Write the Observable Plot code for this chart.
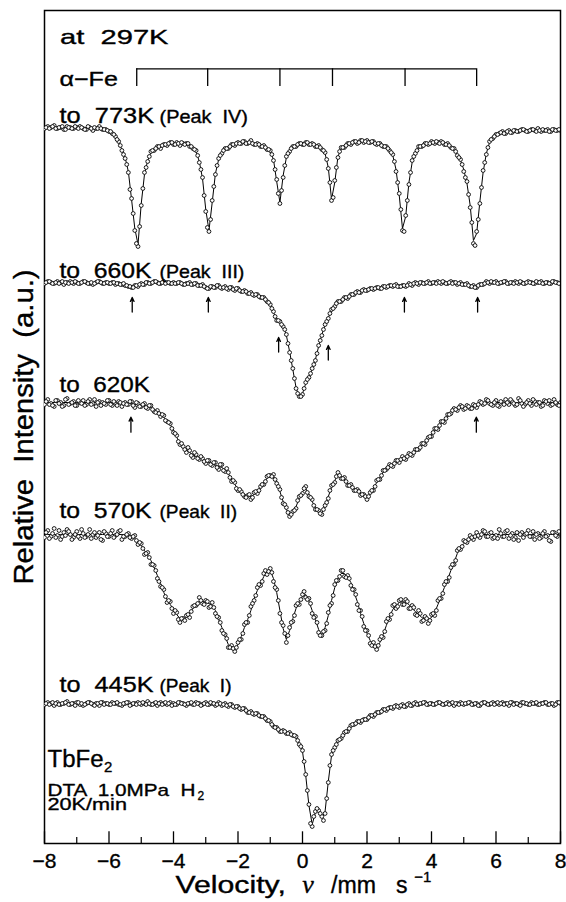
<!DOCTYPE html>
<html><head><meta charset="utf-8">
<script src="https://cdn.jsdelivr.net/npm/d3@7"></script>
<script src="https://cdn.jsdelivr.net/npm/@observablehq/plot@0.6"></script>
<style>
html,body{margin:0;padding:0;background:#fff;}
svg text{white-space:pre;}
</style>
</head><body><div id="chart"></div>
<script>
// ---- Data ----
// velocity channels (mm/s)
const velocity = [
-8,-7.9,-7.8,-7.7,-7.6,-7.5,-7.4,-7.3,-7.2,-7.1,
-7,-6.9,-6.8,-6.7,-6.6,-6.5,-6.4,-6.3,-6.2,-6.1,
-6,-5.9,-5.8,-5.7,-5.6,-5.5,-5.4,-5.3,-5.2,-5.1,
-5,-4.9,-4.8,-4.7,-4.6,-4.5,-4.4,-4.3,-4.2,-4.1,
-4,-3.9,-3.8,-3.7,-3.6,-3.5,-3.4,-3.3,-3.2,-3.1,
-3,-2.9,-2.8,-2.7,-2.6,-2.5,-2.4,-2.3,-2.2,-2.1,
-2,-1.9,-1.8,-1.7,-1.6,-1.5,-1.4,-1.3,-1.2,-1.1,
-1,-0.9,-0.8,-0.7,-0.6,-0.5,-0.4,-0.3,-0.2,-0.1,
0,0.1,0.2,0.3,0.4,0.5,0.6,0.7,0.8,0.9,
1,1.1,1.2,1.3,1.4,1.5,1.6,1.7,1.8,1.9,
2,2.1,2.2,2.3,2.4,2.5,2.6,2.7,2.8,2.9,
3,3.1,3.2,3.3,3.4,3.5,3.6,3.7,3.8,3.9,
4,4.1,4.2,4.3,4.4,4.5,4.6,4.7,4.8,4.9,
5,5.1,5.2,5.3,5.4,5.5,5.6,5.7,5.8,5.9,
6,6.1,6.2,6.3,6.4,6.5,6.6,6.7,6.8,6.9,
7,7.1,7.2,7.3,7.4,7.5,7.6,7.7,7.8,7.9,
8];
// interleaved channels (mm/s)
const velocityMid = [
-7.95,-7.85,-7.75,-7.65,-7.55,-7.45,-7.35,-7.25,-7.15,-7.05,
-6.95,-6.85,-6.75,-6.65,-6.55,-6.45,-6.35,-6.25,-6.15,-6.05,
-5.95,-5.85,-5.75,-5.65,-5.55,-5.45,-5.35,-5.25,-5.15,-5.05,
-4.95,-4.85,-4.75,-4.65,-4.55,-4.45,-4.35,-4.25,-4.15,-4.05,
-3.95,-3.85,-3.75,-3.65,-3.55,-3.45,-3.35,-3.25,-3.15,-3.05,
-2.95,-2.85,-2.75,-2.65,-2.55,-2.45,-2.35,-2.25,-2.15,-2.05,
-1.95,-1.85,-1.75,-1.65,-1.55,-1.45,-1.35,-1.25,-1.15,-1.05,
-0.95,-0.85,-0.75,-0.65,-0.55,-0.45,-0.35,-0.25,-0.15,-0.05,
0.05,0.15,0.25,0.35,0.45,0.55,0.65,0.75,0.85,0.95,
1.05,1.15,1.25,1.35,1.45,1.55,1.65,1.75,1.85,1.95,
2.05,2.15,2.25,2.35,2.45,2.55,2.65,2.75,2.85,2.95,
3.05,3.15,3.25,3.35,3.45,3.55,3.65,3.75,3.85,3.95,
4.05,4.15,4.25,4.35,4.45,4.55,4.65,4.75,4.85,4.95,
5.05,5.15,5.25,5.35,5.45,5.55,5.65,5.75,5.85,5.95,
6.05,6.15,6.25,6.35,6.45,6.55,6.65,6.75,6.85,6.95,
7.05,7.15,7.25,7.35,7.45,7.55,7.65,7.75,7.85,7.95];

const spectra = ["773K", "660K", "620K", "570K", "445K"];
const peakNames = ["(Peak  IV)", "(Peak  III)", "", "(Peak  II)", "(Peak  I)"];
// baseline level of each stacked spectrum (a.u.)
const baselines = [716, 561, 441, 309, 140];

// absorption depth below each baseline (a.u.): fitted curve, measured points, interleaved measured points
const fit773 = [
0,0,0,0,0,0,0,0,0,0, 0,0,0,0,0,0,0,0,1,2,
3,5,9,15,22,30,44,72,101,117, 76,47,33,25,22,20,19,18,17,16,
16,16,16,16,17,18,20,24,34,51, 82,103,75,46,32,25,22,20,18,17,
16,15,15,15,15,16,17,18,19,21, 24,32,54,75,48,30,23,20,18,17,
16,16,16,17,18,19,21,26,40,72, 55,29,21,19,17,16,15,15,14,14,
14,14,15,16,17,18,20,22,28,42, 68,101,89,55,35,25,20,18,17,16,
15,15,15,15,16,17,19,22,27,33, 42,56,78,113,106,74,45,26,15,10,
8,6,5,5,4,4,4,3,3,3, 3,3,3,3,3,3,3,3,3,3, 3];
const obs773 = [
1,-1,0,-2,1,0,2,-1,0,1, 0,-1,1,2,0,3,1,-1,2,2,
4,6,9,14,23,31,45,71,103,119, 78,45,34,24,23,19,21,17,18,15,
17,15,18,16,16,19,21,23,35,50, 84,104,73,47,31,26,21,21,17,18,
15,16,14,16,13,17,16,19,18,22, 23,33,52,76,50,29,24,19,19,16,
17,15,17,16,19,18,22,25,41,73, 53,30,20,20,16,17,14,16,13,15,
13,15,14,17,16,19,19,23,27,44, 66,103,88,57,33,26,19,19,16,17,
14,16,15,14,17,16,20,21,28,32, 44,54,80,116,104,76,43,27,14,11,
7,6,4,6,3,5,3,4,2,3, 4,2,3,1,4,3,2,4,2,3, 3];
const mid773 = [
0,1,-1,1,0,-1,2,0,1,-1, 1,0,2,-1,1,0,1,1,2,3,
4,7,12,18,27,37,62,86,116,99, 61,40,29,23,21,19,18,17,16,15,
17,16,15,17,16,19,22,28,42,68, 100,92,59,38,28,23,21,19,17,16,
16,14,16,15,16,17,17,19,20,22, 27,42,66,63,38,26,21,19,17,16,
17,15,17,17,19,20,23,32,55,70, 40,24,20,18,16,15,14,15,13,14,
15,14,16,16,18,19,21,25,34,55, 82,104,73,45,29,23,19,18,16,16,
15,14,16,15,17,18,21,24,30,37, 50,67,95,118,92,60,35,20,12,9,
7,5,6,4,5,3,4,3,2,4, 3,2,4,3,2,3,4,2,3,2];

const fit660 = [
0,0,0,0,0,0,0,0,0,0, 0,0,0,0,0,0,0,0,0,0,
0,0,1,1,1,2,3,4,4,3, 2,1,1,0,0,0,0,0,0,0,
0,0,1,1,1,1,1,2,2,3, 4,5,4,4,4,5,5,6,6,7,
7,8,9,10,11,12,13,14,16,18, 21,30,37,40,43,53,69,87,105,115,
111,101,94,87,77,64,52,43,35,28, 23,20,18,16,15,13,11,10,9,8,
7,7,6,6,5,5,4,4,3,3, 3,4,3,2,2,1,1,1,1,0,
0,0,0,0,0,0,0,0,1,1, 1,2,3,4,4,3,1,0,0,0,
0,0,0,0,0,0,0,0,0,0, 0,0,0,0,0,0,0,0,0,0, 0];
const obs660 = [
1,-1,0,1,-1,0,2,0,-1,1, 0,1,-1,0,1,2,0,-1,1,0,
1,0,2,1,2,3,4,5,3,4, 1,2,0,1,-1,0,1,-1,0,1,
0,1,0,2,1,0,2,1,3,2, 5,6,4,5,3,6,4,7,5,8,
6,9,8,11,10,13,12,15,15,19, 22,29,38,39,44,52,70,86,106,114,
112,100,95,86,78,63,53,42,36,27, 24,19,19,15,16,12,12,9,10,7,
8,6,7,5,6,4,5,3,4,2, 4,3,4,1,3,0,2,0,1,-1,
1,0,-1,1,0,1,-1,0,2,0, 2,1,4,3,5,2,2,-1,1,0,
-1,1,0,-1,1,0,-1,1,0,1, -1,0,1,0,-1,1,0,1,-1,0, 1];
const mid660 = [
0,-1,1,0,1,-1,0,1,0,-1, 1,0,-1,1,0,1,-1,0,1,0,
1,0,1,2,1,3,4,5,3,2, 2,0,1,0,-1,1,0,1,0,1,
1,0,1,2,1,2,1,3,3,4, 6,4,5,3,5,5,6,5,7,6,
8,9,9,11,12,12,14,15,17,20, 26,34,38,42,47,61,78,96,111,114,
106,97,91,82,71,58,47,39,31,26, 21,19,17,15,14,12,10,10,8,8,
7,6,6,5,6,4,4,3,3,4, 4,3,3,2,1,1,0,1,0,1,
0,1,0,-1,1,0,1,0,1,2, 2,3,4,5,3,2,1,0,-1,0,
1,0,-1,1,0,1,0,-1,1,0, 0,1,-1,0,1,0,1,-1,0,1];

const fit620 = [
0,0,0,0,0,0,0,0,0,0, 0,0,0,0,0,0,0,0,0,0,
0,0,0,0,0,0,1,1,2,2, 3,3,4,5,7,9,12,15,18,22,
28,35,40,45,47,50,52,54,55,57, 58,60,61,63,64,65,67,71,77,82,
86,90,92,94,94,92,89,85,80,76, 72,74,79,89,99,107,112,110,104,96,
89,86,92,99,105,110,110,105,94,85, 78,72,74,77,81,84,86,88,91,93,
95,92,86,80,75,70,66,64,62,60, 58,56,55,53,51,48,46,43,40,36,
32,28,25,21,18,14,10,7,6,5, 5,5,5,4,3,1,0,0,0,0,
0,0,0,0,0,0,0,0,0,0, 0,0,0,0,0,0,0,0,0,0, 0];
const obs620 = [
2,-3,1,4,-2,0,3,-4,1,-1, 3,0,-2,2,-3,1,4,-1,0,2,
-2,3,1,-1,4,0,2,-1,5,1, 4,1,6,3,9,8,14,13,19,21,
30,33,42,44,50,48,55,52,57,56, 61,58,63,60,67,62,69,70,79,80,
88,89,94,93,97,90,91,84,82,74, 73,72,81,87,101,105,114,109,106,94,
91,84,94,97,107,108,112,103,96,83, 80,70,76,75,83,82,88,87,93,92,
97,90,88,78,77,68,67,62,64,58, 60,54,57,51,53,47,47,41,42,35,
34,26,27,19,20,12,11,6,8,3, 7,3,6,2,5,-1,2,-3,1,3,
-2,4,0,-3,2,-1,3,-4,1,2, -2,3,-1,0,4,-2,1,3,-3,2, 0];
const mid620 = [
-1,2,3,-2,1,4,-3,2,0,3, -2,1,3,-1,2,-3,0,3,1,-2,
2,-1,3,0,1,2,-1,3,0,4, 2,5,3,7,10,11,12,18,20,26,
31,39,41,47,45,53,50,56,54,59, 58,62,60,65,62,68,66,75,78,86,
87,92,95,92,95,89,88,82,79,73, 74,77,84,95,102,110,112,108,98,93,
86,90,95,103,107,111,107,100,88,82, 74,73,76,79,83,85,88,89,92,94,
94,88,84,77,73,68,65,63,61,58, 57,56,54,52,50,47,45,41,38,34,
30,26,23,19,16,12,8,7,5,4, 6,4,6,3,2,0,1,-2,2,0,
3,-1,2,0,-3,1,2,-2,4,0, 1,-3,2,0,3,-1,-2,2,0,3];

const fit570 = [
0,0,0,0,0,0,0,0,0,0, 0,0,0,0,0,0,0,0,0,0,
0,0,0,0,0,0,0,1,4,7, 11,16,21,26,33,41,49,58,65,70,
75,80,84,85,83,79,74,70,67,67, 68,69,71,76,85,93,102,110,114,115,
110,102,93,85,76,64,56,49,42,37, 36,44,58,76,94,105,96,84,74,67,
62,60,67,76,85,95,103,93,81,66, 53,44,39,39,43,48,58,67,79,89,
99,106,111,113,108,100,91,82,75,71, 68,67,68,70,74,77,80,83,85,85,
83,78,70,61,53,45,36,28,19,13, 9,6,4,3,2,1,0,0,0,0,
0,0,0,0,0,0,0,0,0,0, 0,0,0,0,0,0,0,0,0,0, 0];
const obs570 = [
3,-4,2,-6,1,5,-2,-5,0,3, -3,4,-1,2,-5,0,3,-2,6,-1,
2,-4,1,-3,5,2,-1,4,1,10, 9,20,18,30,31,44,52,55,68,67,
79,78,88,84,81,83,72,71,63,69, 66,73,68,79,83,96,100,113,111,117,
108,105,90,88,72,66,53,51,39,40, 34,47,55,79,91,108,93,87,71,70,
60,63,64,79,82,98,101,96,78,69, 50,46,36,42,41,51,55,70,76,92,
96,109,108,115,105,103,87,85,71,74, 66,70,65,74,71,80,76,87,82,89,
80,81,66,64,50,47,33,30,16,15, 6,8,1,5,-2,3,-4,2,-1,4,
1,-5,2,-3,4,-1,3,6,-2,0, -4,2,5,-1,3,-3,1,7,-2,2, -1];
const mid570 = [
-2,4,-1,3,-4,2,1,-3,5,0, 2,-5,3,0,4,-2,1,5,-3,2,
-1,3,0,-4,2,0,3,2,6,8, 14,19,23,30,36,47,53,62,66,74,
76,85,84,86,80,77,71,69,66,70, 67,72,73,82,88,99,104,113,114,113,
105,99,88,81,69,61,50,47,36,37, 38,53,66,88,99,101,88,81,69,65,
57,65,69,83,88,101,97,89,71,61, 46,42,36,43,44,55,60,76,82,96,
101,111,112,111,102,97,84,80,70,72, 65,70,67,74,73,81,79,86,84,86,
79,76,64,59,47,43,30,26,14,12, 7,5,3,2,1,0,-3,2,-2,3,
4,-1,2,-4,1,5,-2,0,3,-1, 2,-3,0,4,-1,2,6,-2,1,-3];

const fit445 = [
0,0,0,0,0,0,0,0,0,0, 0,0,0,0,0,0,0,0,0,0,
0,0,0,0,0,0,0,0,0,0, 0,0,0,0,0,0,0,0,0,0,
0,0,0,0,0,0,0,0,0,0, 0,0,0,0,0,1,1,2,2,3,
4,5,6,8,9,10,11,12,14,16, 19,22,25,27,28,29,30,31,34,40,
48,72,102,121,109,106,114,108,78,52, 43,38,34,30,27,23,20,19,18,17,
15,13,12,10,8,7,6,5,4,3, 3,2,2,1,1,0,0,0,0,0,
0,0,0,0,0,0,0,0,0,0, 0,0,0,0,0,0,0,0,0,0,
0,0,0,0,0,0,0,0,0,0, 0,0,0,0,0,0,0,0,0,0, 0];
const obs445 = [
1,-1,0,2,-1,1,0,-2,1,0, -1,1,2,0,-1,1,0,2,-1,0,
1,-1,0,1,2,0,-1,1,0,-1, 1,0,-2,1,0,2,-1,0,1,-1,
0,1,-1,0,2,0,1,-1,0,1, -1,1,0,2,-1,2,0,3,1,4,
3,6,5,9,8,11,10,13,13,17, 18,23,24,28,27,30,29,32,33,41,
47,71,101,123,108,107,113,110,79,51, 44,37,35,29,28,22,21,18,19,16,
16,12,13,9,9,6,7,4,5,2, 4,1,3,0,2,-1,1,0,-1,1,
0,1,-1,0,1,-1,0,2,0,-1, 1,0,-1,1,0,2,-1,0,1,-1,
0,1,-1,0,2,-1,0,1,-1,0, 1,-1,0,1,0,-1,1,0,2,-1, 0];
const mid445 = [
0,1,-1,0,1,0,-1,1,0,2, -1,0,1,-1,0,2,0,-1,1,0,
1,0,-1,1,0,-1,2,0,1,0, -1,1,0,1,-1,0,1,-1,0,2,
1,-1,0,1,0,-1,1,0,2,0, 1,-1,0,1,0,1,2,1,3,3,
5,5,7,9,10,10,12,13,15,17, 21,24,26,28,28,30,31,32,37,43,
58,87,120,113,105,110,117,95,62,47, 41,36,32,28,25,21,20,18,17,16,
14,12,11,9,8,6,5,4,3,3, 2,3,1,2,0,1,0,-1,1,0,
1,0,-1,1,0,1,-1,0,1,0, 0,-1,1,0,2,0,-1,1,0,1,
-1,0,1,0,-1,1,0,2,-1,0, 1,0,-1,1,0,-1,1,0,1,-1];

// alpha-Fe sextet line positions (mm/s) and arrow marks
const alphaFe = [-5.14, -2.94, -0.70, 0.93, 3.18, 5.40];
const arrows660 = [-5.28, -2.92, -0.74, 0.80, 3.16, 5.43];
const arrows620 = [-5.32, 5.39];
const xTicks = [-8, -6, -4, -2, 0, 2, 4, 6, 8];
const xMinor = [-7, -5, -3, -1, 1, 3, 5, 7];

// ---- Build tables ----
const fits = [fit773, fit660, fit620, fit570, fit445];
const obss = [obs773, obs660, obs620, obs570, obs445];
const mids = [mid773, mid660, mid620, mid570, mid445];
fits.concat(obss).forEach((a, k) => { if (a.length !== velocity.length) throw new Error("length mismatch " + k + ": " + a.length); });
mids.forEach((a, k) => { if (a.length !== velocityMid.length) throw new Error("mid length mismatch " + k + ": " + a.length); });

const rows = spectra.flatMap((s, j) => velocity.map((v, i) => ({
  s, v, fit: baselines[j] - fits[j][i], obs: baselines[j] - obss[j][i]
})));
const midRows = spectra.flatMap((s, j) => velocityMid.map((v, i) => ({
  s, v, obs: baselines[j] - mids[j][i]
})));
const points = rows.map(d => ({v: d.v, obs: d.obs})).concat(midRows);

const labelLift = [4.3, 4.7, 10.3, 16.5, 11.3];
const labelRows = spectra.map((s, j) => ({main: "to  " + s, peak: peakNames[j], y: baselines[j] + labelLift[j]}));

const arrowRows = [
  ...arrows660.map((v, k) => {
    const drop = k === 2 ? 55 : k === 3 ? 63 : 15;
    return {v, tip: baselines[1] - drop, tail: baselines[1] - drop - 14.5};
  }),
  ...arrows620.map(v => ({v, tip: baselines[2] - 14.7, tail: baselines[2] - 29.7}))
];

const barY = 774.7, barTick = 757;
const sans = "'Liberation Sans', Arial, Helvetica, sans-serif";
const ink = {fill: "black", stroke: "black", strokeWidth: 0.35, paintOrder: "normal"};

const plot = Plot.plot({
  width: 566, height: 902,
  marginLeft: 44, marginRight: 6, marginTop: 10, marginBottom: 59,
  x: {domain: [-8, 8], axis: null},
  y: {domain: [0, 833], axis: null},
  style: {fontFamily: sans, background: "white", color: "black"},
  marks: [
    Plot.frame({stroke: "black", strokeWidth: 1.5}),
    Plot.ruleX(xTicks, {x: d => d, y1: 0, y2: 11.7, stroke: "black", strokeWidth: 1.3}),
    Plot.ruleX(xMinor, {x: d => d, y1: 0, y2: 6, stroke: "black", strokeWidth: 1.2}),
    Plot.text(xTicks, {x: d => d, text: d => d < 0 ? "\u2212" + Math.abs(d) : String(d),
      frameAnchor: "bottom", dy: 24, lineAnchor: "bottom", fontSize: 21, ...ink}),
    // alpha-Fe stick diagram
    Plot.ruleY([barY], {x1: alphaFe[0], x2: alphaFe[alphaFe.length - 1], stroke: "black", strokeWidth: 1.3}),
    Plot.ruleX(alphaFe, {x: d => d, y1: barY, y2: barTick, stroke: "black", strokeWidth: 1.3}),
    // spectra
    Plot.line(rows, {x: "v", y: "fit", z: "s", stroke: "black", strokeWidth: 1}),
    Plot.dot(points, {x: "v", y: "obs", r: 1.9, stroke: "black", fill: "white", strokeWidth: 0.9, clip: true}),
    // arrows
    Plot.arrow(arrowRows, {x1: "v", x2: "v", y1: "tail", y2: "tip", stroke: "black", strokeWidth: 1.3, headLength: 5, headAngle: 50}),
    // labels
    Plot.text(["at  297K"], {frameAnchor: "top-left", dx: 15.6, dy: 33.3, lineAnchor: "bottom", textAnchor: "start", fontSize: 21, ...ink}),
    Plot.text(["\u03b1\u2212Fe"], {frameAnchor: "top-left", dx: 14.9, dy: 75, lineAnchor: "bottom", textAnchor: "start", fontSize: 21, ...ink}),
    Plot.text(labelRows, {y: "y", text: "main", frameAnchor: "left", dx: 15, lineAnchor: "bottom", textAnchor: "start", fontSize: 21.5, ...ink}),
    Plot.text(labelRows, {y: "y", text: "peak", frameAnchor: "left", dx: 115, lineAnchor: "bottom", textAnchor: "start", fontSize: 17.7, ...ink}),
    Plot.text(["TbFe"], {frameAnchor: "bottom-left", dx: 3, dy: -76.3, lineAnchor: "bottom", textAnchor: "start", fontSize: 23.5, ...ink}),
    Plot.text(["2"], {frameAnchor: "bottom-left", dx: 59.5, dy: -72, lineAnchor: "bottom", textAnchor: "start", fontSize: 15, ...ink}),
    Plot.text(["DTA  1.0MPa  H\n20K/min"], {frameAnchor: "bottom-left", dx: 3, dy: -33.5, lineAnchor: "bottom", lineHeight: 0.835, textAnchor: "start", fontSize: 17, ...ink}),
    Plot.text(["2"], {frameAnchor: "bottom-left", dx: 153, dy: -44, lineAnchor: "bottom", textAnchor: "start", fontSize: 12, ...ink}),
    // axis titles
    Plot.text(["Relative  Intensity  (a.u.)"], {frameAnchor: "left", dx: -20.5, rotate: -90, textAnchor: "middle", lineAnchor: "middle", fontSize: 27, ...ink}),
    Plot.text(["Velocity,"], {frameAnchor: "bottom-left", dx: 131, dy: 49, lineAnchor: "bottom", textAnchor: "start", fontSize: 23, ...ink}),
    Plot.text(["\u03bd"], {frameAnchor: "bottom-left", dx: 257.7, dy: 49, lineAnchor: "bottom", textAnchor: "start", fontSize: 26, fontStyle: "italic", fontFamily: "'Liberation Serif', 'DejaVu Serif', serif", ...ink}),
    Plot.text(["/mm"], {frameAnchor: "bottom-left", dx: 286.6, dy: 49, lineAnchor: "bottom", textAnchor: "start", fontSize: 23, ...ink}),
    Plot.text(["s"], {frameAnchor: "bottom-left", dx: 351.6, dy: 49, lineAnchor: "bottom", textAnchor: "start", fontSize: 23, ...ink}),
    Plot.text(["\u22121"], {frameAnchor: "bottom-left", dx: 369.7, dy: 38.5, lineAnchor: "bottom", textAnchor: "start", fontSize: 15, ...ink})
  ]
});

// stretch wide label lettering to the widths measured in the reference
const widths = {
  "at  297K": 108.4, "\u03b1\u2212Fe": 58.5,
  "to  773K": 94.6, "(Peak  IV)": 88.5,
  "to  660K": 92.1, "(Peak  III)": 84.9,
  "to  620K": 90.4,
  "to  570K": 92.1, "(Peak  II)": 77.6,
  "to  445K": 94, "(Peak  I)": 72,
  "TbFe": 56, "DTA  1.0MPa  H": 148, "20K/min": 79.5,
  "Relative  Intensity  (a.u.)": 315,
  "Velocity,": 110.4, "/mm": 45
};
d3.select(plot).selectAll("text, tspan").each(function() {
  if (this.firstElementChild) return;
  const t = this.textContent;
  if (widths[t]) {
    this.setAttribute("textLength", widths[t]);
    this.setAttribute("lengthAdjust", "spacingAndGlyphs");
  }
});
document.getElementById("chart").appendChild(plot);
</script>
</body></html>
